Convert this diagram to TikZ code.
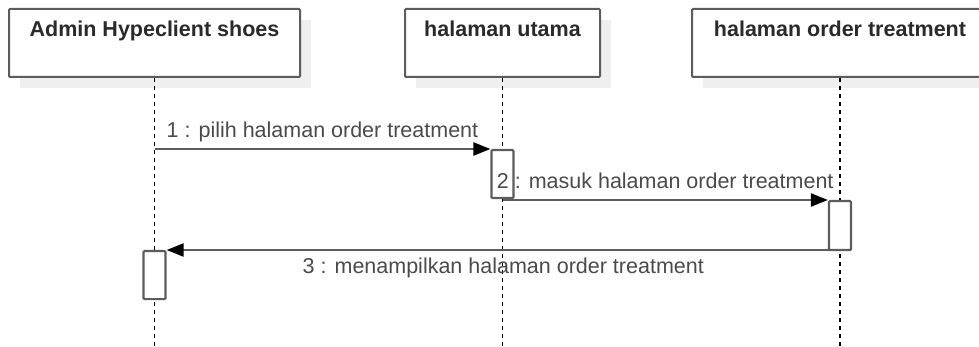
\documentclass[tikz,border=0pt]{standalone}
\usepackage{fontspec}
\setmainfont{Liberation Sans}
\usetikzlibrary{arrows.meta,shadows}
\definecolor{edge}{HTML}{5C5C5C}
\definecolor{shade}{HTML}{EFEFEF}
\definecolor{titleink}{HTML}{2A2A2A}
\definecolor{msgink}{HTML}{4A4A4A}
\begin{document}
\begin{tikzpicture}[x=1pt,y=-1pt,
  headbox/.style={draw=edge, line width=2pt, fill=white, rounded corners=1pt,
    minimum height=68pt, inner sep=0pt, anchor=north west,
    drop shadow={fill=shade, opacity=1, shadow xshift=11pt, shadow yshift=-11pt}},
  headtext/.style={font=\fontsize{21.5}{24}\selectfont\bfseries, text=titleink, anchor=base, inner sep=0pt},
  lifeline/.style={draw=black, line width=1.5pt, dash pattern=on 4pt off 4pt},
  actbox/.style={draw=edge, line width=2.2pt, fill=white, rounded corners=1pt,
    minimum width=22pt, minimum height=48pt, inner sep=0pt, anchor=north},
  msg/.style={draw=edge, line width=2.2pt, -{Triangle[length=17pt,width=13pt,color=black]}},
  msgtext/.style={font=\fontsize{21.5}{24}\selectfont, text=msgink, anchor=base, inner sep=0pt}]

\useasboundingbox (0,0) rectangle (979,347);
\clip (0,0) rectangle (979,347);

% participant heads
\node[headbox, minimum width=291pt] (head1) at (8,8) {};
\node[headbox, minimum width=195pt] (head2) at (404,8) {};
\node[headbox, minimum width=296pt] (head3) at (691,8) {};
\node[headtext] (t1) at ([yshift=-29pt]head1.north) {Admin Hypeclient shoes};
\node[headtext] (t2) at ([yshift=-29pt]head2.north) {halaman utama};
\node[headtext] (t3) at ([yshift=-29pt]head3.north) {halaman order treatment};

% lifelines
\coordinate (floor) at (0,347);
\draw[lifeline] (head1.south) -- (head1.south |- floor);
\draw[lifeline] (head2.south) -- (head2.south |- floor);
\draw[lifeline] (head3.south) -- (head3.south |- floor);

% activation bars
\node[actbox] (act1) at (head2.south |- 0,149) {};
\node[actbox, minimum height=49pt] (act2) at (head3.south |- 0,200) {};
\node[actbox] (act3) at (head1.south |- 0,250) {};

% messages
\draw[msg] (head1.south |- act1.north west) -- (act1.north west)
  node[msgtext, midway, yshift=11pt] {1 : pilih halaman order treatment};
\draw[msg] (head2.south |- act2.north west) -- (act2.north west)
  node[msgtext, midway, yshift=11pt] {2 : masuk halaman order treatment};
\draw[msg] (head3.south |- act3.north east) -- (act3.north east)
  node[msgtext, midway, yshift=-23pt] {3 : menampilkan halaman order treatment};
\end{tikzpicture}
\end{document}
